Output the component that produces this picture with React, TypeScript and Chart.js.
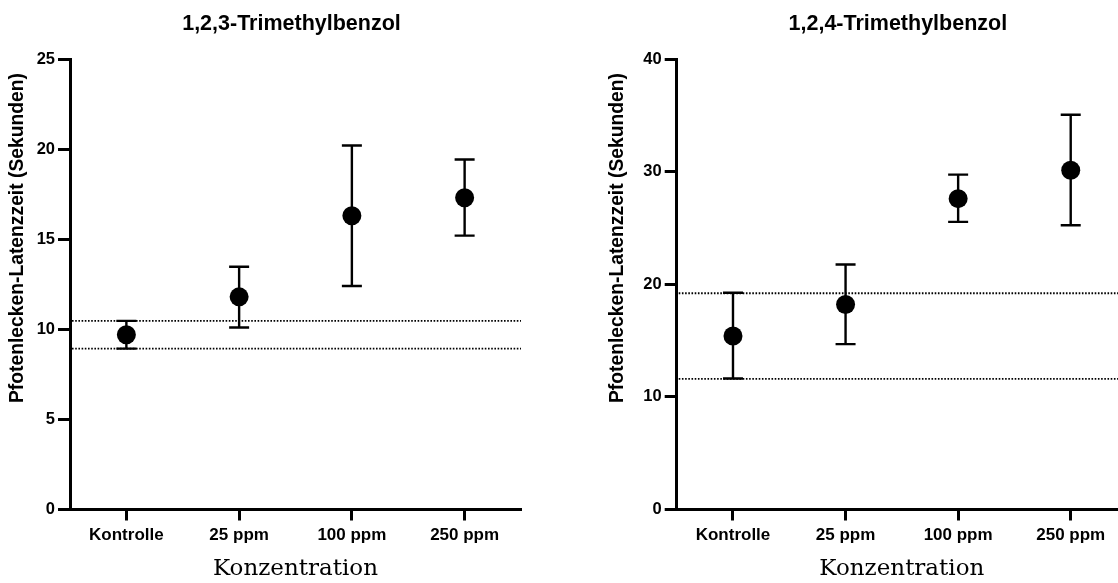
import React, { useEffect, useRef } from 'react';
import { Chart, registerables } from 'chart.js';

Chart.register(...registerables);

// ---- Data ----
const categories = ['Kontrolle', '25 ppm', '100 ppm', '250 ppm'];

const tmb123Title = '1,2,3-Trimethylbenzol';
const tmb123Mean = [9.7, 11.8, 16.3, 17.3];
const tmb123Upper = [10.47, 13.47, 20.2, 19.42];
const tmb123Lower = [8.93, 10.1, 12.4, 15.2];
const tmb123RefLines = [10.47, 8.93];
const tmb123YMax = 25;
const tmb123YStep = 5;

const tmb124Title = '1,2,4-Trimethylbenzol';
const tmb124Mean = [15.4, 18.2, 27.6, 30.13];
const tmb124Upper = [19.25, 21.76, 29.73, 35.05];
const tmb124Lower = [11.63, 14.68, 25.54, 25.24];
const tmb124RefLines = [19.2, 11.6];
const tmb124YMax = 40;
const tmb124YStep = 10;

const yAxisTitle = 'Pfotenlecken-Latenzzeit (Sekunden)';
const xAxisTitle = 'Konzentration';

const SANS = "'Liberation Sans', Arial, sans-serif";
const SERIF = "'DejaVu Serif', serif";

type PanelProps = {
  title: string;
  mean: number[];
  upper: number[];
  lower: number[];
  refLines: number[];
  yMax: number;
  yStep: number;
  left: number;
  yWidth: number;
  yTitleX: number;
};

function Panel(props: PanelProps) {
  const ref = useRef<HTMLCanvasElement>(null);
  useEffect(() => {
    const { title, mean, upper, lower, refLines, yMax, yStep, yWidth, yTitleX } = props;
    const decor = {
      id: 'decor',
      beforeDatasetsDraw(chart: any) {
        const { ctx, chartArea, scales } = chart;
        const xs = scales.x;
        const ys = scales.y;
        ctx.save();
        ctx.strokeStyle = '#000';
        ctx.lineWidth = 1.8;
        ctx.setLineDash([1.6, 1.6]);
        refLines.forEach((v) => {
          const py = ys.getPixelForValue(v);
          ctx.beginPath();
          ctx.moveTo(chartArea.left + 2, py);
          ctx.lineTo(chartArea.right, py);
          ctx.stroke();
        });
        ctx.setLineDash([]);
        ctx.lineWidth = 2.4;
        categories.forEach((_c, i) => {
          const px = xs.getPixelForValue(i);
          const pu = ys.getPixelForValue(upper[i]);
          const pl = ys.getPixelForValue(lower[i]);
          ctx.beginPath();
          ctx.moveTo(px, pu);
          ctx.lineTo(px, pl);
          ctx.moveTo(px - 10, pu);
          ctx.lineTo(px + 10, pu);
          ctx.moveTo(px - 10, pl);
          ctx.lineTo(px + 10, pl);
          ctx.stroke();
        });
        ctx.restore();
      },
      afterDraw(chart: any) {
        const { ctx, chartArea } = chart;
        ctx.save();
        ctx.fillStyle = '#000';
        ctx.font = `bold 21.5px ${SANS}`;
        ctx.textAlign = 'center';
        ctx.textBaseline = 'alphabetic';
        ctx.fillText(title, (chartArea.left + chartArea.right) / 2 - 4, 30);
        ctx.translate(yTitleX, 238);
        ctx.rotate(-Math.PI / 2);
        ctx.font = `bold 19.3px ${SANS}`;
        ctx.textBaseline = 'middle';
        ctx.fillText(yAxisTitle, 0, 0);
        ctx.restore();
      },
    };

    const chart = new Chart(ref.current as HTMLCanvasElement, {
      type: 'line',
      data: {
        labels: categories,
        datasets: [
          {
            data: mean,
            showLine: false,
            pointRadius: 9.5,
            pointHoverRadius: 9.5,
            pointBackgroundColor: '#000',
            pointBorderColor: '#000',
            pointBorderWidth: 0,
          },
        ],
      },
      options: {
        responsive: false,
        animation: false,
        layout: { padding: { top: 59, right: 39, left: 0, bottom: 0 } },
        plugins: {
          legend: { display: false },
          tooltip: { enabled: false },
          title: { display: false },
        },
        scales: {
          x: {
            type: 'category',
            offset: true,
            grid: {
              display: true,
              drawOnChartArea: false,
              drawTicks: true,
              tickLength: 11,
              tickWidth: 3,
              tickColor: '#000',
              offset: false,
            },
            border: { display: true, color: '#000', width: 3 },
            ticks: {
              color: '#000',
              font: { family: SANS, size: 17, weight: 'bold' },
              padding: 5,
              maxRotation: 0,
              autoSkip: false,
            },
            title: {
              display: true,
              text: xAxisTitle,
              color: '#000',
              font: { family: SERIF, size: 23, weight: 'normal' },
              padding: { top: 0, bottom: 0 },
            },
            afterFit: (s: any) => {
              s.height = 73.5;
            },
          },
          y: {
            min: 0,
            max: yMax,
            grid: {
              display: true,
              drawOnChartArea: false,
              drawTicks: true,
              tickLength: 12,
              tickWidth: 3,
              tickColor: '#000',
            },
            border: { display: true, color: '#000', width: 3 },
            ticks: {
              stepSize: yStep,
              color: '#000',
              font: { family: SANS, size: 16.5, weight: 'bold' },
              padding: 3,
            },
            afterFit: (s: any) => {
              s.width = yWidth;
            },
          },
        },
      },
      plugins: [decor],
    } as any);
    return () => chart.destroy();
  }, []);

  return (
    <canvas
      ref={ref}
      width={560}
      height={583}
      style={{ position: 'absolute', left: props.left, top: 0, width: 560, height: 583 }}
    />
  );
}

export default function App() {
  return (
    <div
      style={{
        position: 'fixed',
        left: 0,
        top: 0,
        width: 1118,
        height: 583,
        overflow: 'hidden',
        background: '#fff',
      }}
    >
      <Panel
        title={tmb123Title}
        mean={tmb123Mean}
        upper={tmb123Upper}
        lower={tmb123Lower}
        refLines={tmb123RefLines}
        yMax={tmb123YMax}
        yStep={tmb123YStep}
        left={0}
        yWidth={70}
        yTitleX={18}
      />
      <Panel
        title={tmb124Title}
        mean={tmb124Mean}
        upper={tmb124Upper}
        lower={tmb124Lower}
        refLines={tmb124RefLines}
        yMax={tmb124YMax}
        yStep={tmb124YStep}
        left={606}
        yWidth={70.7}
        yTitleX={12}
      />
    </div>
  );
}
